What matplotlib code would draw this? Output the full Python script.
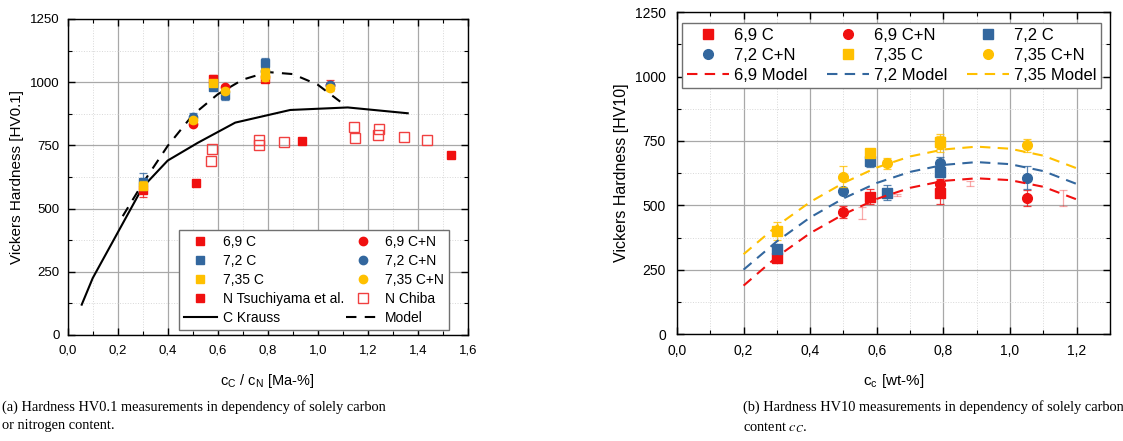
import matplotlib
matplotlib.use("Agg")
import matplotlib.pyplot as plt
from matplotlib.ticker import MultipleLocator, FuncFormatter

plt.rcParams['font.family'] = ['Liberation Sans', 'DejaVu Sans']
plt.rcParams['mathtext.fontset'] = 'stix'

RED = '#f01010'
BLUE = '#33679e'
YELLOW = '#ffc000'

# ---- HV0.1 (carbon or nitrogen content) ----
hv01_69c_x = [0.30, 0.58, 0.79]
hv01_69c_y = [572, 1012, 1012]
hv01_69c_err = [25, 15, 10]
hv01_69cn_x = [0.50, 0.63, 1.05]
hv01_69cn_y = [836, 982, 990]
hv01_69cn_err = [10, 8, 20]
hv01_72c_x = [0.30, 0.58, 0.63, 0.79]
hv01_72c_y = [607, 982, 950, 1075]
hv01_72c_err = [32, 12, 20, 20]
hv01_72cn_x = [0.50, 0.79, 1.05]
hv01_72cn_y = [862, 1045, 988]
hv01_72cn_err = [15, 10, 10]
hv01_735c_x = [0.30, 0.58, 0.79]
hv01_735c_y = [590, 995, 1035]
hv01_735c_err = [18, 10, 20]
hv01_735cn_x = [0.50, 0.63, 0.79, 1.05]
hv01_735cn_y = [850, 965, 1020, 978]
hv01_735cn_err = [10, 10, 15, 12]

tsuchiyama_x = [0.512, 0.937, 1.532]
tsuchiyama_y = [600, 769, 712]
chiba_x = [0.577, 0.575, 0.764, 0.764, 0.864, 1.147, 1.149, 1.245, 1.240, 1.344, 1.436]
chiba_y = [736, 688, 771, 750, 765, 824, 778, 815, 790, 782, 773]

krauss_x = [0.056, 0.10, 0.20, 0.30, 0.40, 0.52, 0.67, 0.89, 1.12, 1.36]
krauss_y = [120, 225, 405, 585, 690, 760, 840, 890, 900, 877]
model01_x = [0.22, 0.30, 0.40, 0.50, 0.60, 0.70, 0.80, 0.90, 1.00, 1.09]
model01_y = [470, 600, 748, 870, 952, 1010, 1040, 1032, 990, 923]

# ---- HV10 (carbon content) ----
hv10_69c_x = [0.30, 0.58, 0.79]
hv10_69c_y = [297, 534, 547]
hv10_69c_err = [18, 30, 40]
hv10_69cn_x = [0.50, 0.79, 1.05]
hv10_69cn_y = [474, 584, 528]
hv10_69cn_err = [25, 20, 30]
hv10_72c_x = [0.30, 0.58, 0.63, 0.79]
hv10_72c_y = [332, 672, 549, 630]
hv10_72c_err = [10, 25, 30, 20]
hv10_72cn_x = [0.50, 0.79, 1.05]
hv10_72cn_y = [554, 663, 607]
hv10_72cn_err = [10, 25, 45]
hv10_735c_x = [0.30, 0.58, 0.79]
hv10_735c_y = [400, 703, 748]
hv10_735c_err = [35, 8, 30]
hv10_735cn_x = [0.50, 0.63, 0.79, 1.05]
hv10_735cn_y = [611, 663, 738, 733]
hv10_735cn_err = [40, 20, 30, 25]
# faint bars without markers
hv10_faint_x = [0.555, 0.66, 0.88, 1.16]
hv10_faint_y = [470, 540, 585, 528]
hv10_faint_err = [22, 5, 8, 30]

model_x = [0.2, 0.3, 0.4, 0.5, 0.6, 0.7, 0.8, 0.9, 1.0, 1.1, 1.2]
model69_y = [188, 300, 392, 465, 525, 568, 595, 605, 598, 572, 523]
model72_y = [250, 360, 453, 527, 587, 630, 657, 668, 660, 633, 583]
model735_y = [310, 420, 513, 587, 647, 690, 717, 728, 720, 693, 644]

comma = FuncFormatter(lambda v, p: ('%.1f' % v).replace('.', ','))


def style_axes(ax, fs, ypad):
    ax.tick_params(which='both', direction='in', top=True, right=True, labelsize=fs)
    ax.tick_params(which='major', length=5, width=1)
    ax.tick_params(which='minor', length=3, width=0.8)
    ax.tick_params(axis='x', pad=7)
    ax.tick_params(axis='y', pad=ypad)
    ax.grid(which='major', color='#a8a8a8', lw=0.9)
    ax.grid(which='minor', color='#d8d8d8', lw=0.7, ls=':')
    ax.set_axisbelow(True)
    for s in ax.spines.values():
        s.set_linewidth(1.0)
    ax.xaxis.set_major_formatter(comma)


def series(ax, x, y, err, color, marker, label, ms):
    ax.errorbar(x, y, yerr=err, fmt='none', ecolor=color, elinewidth=0.9,
                capsize=3, capthick=0.9, alpha=0.8)
    ax.plot(x, y, marker, color=color, ms=ms, mec=color, label=label, ls='none')


fig = plt.figure(figsize=(11.23, 4.41), dpi=100)

# left panel
ax1 = fig.add_axes([0.0603, 0.2404, 0.3562, 0.7166])
ax1.plot(krauss_x, krauss_y, color='black', lw=1.5, label='C Krauss')
ax1.plot(model01_x, model01_y, color='black', lw=1.5, ls=(0, (5, 4)), label='Model')
ax1.plot(tsuchiyama_x, tsuchiyama_y, 's', color=RED, ms=6, ls='none', label='N Tsuchiyama et al.')
ax1.plot(chiba_x, chiba_y, 's', mfc='none', mec='#f04040', mew=1.0, ms=6.5, ls='none', label='N Chiba')
series(ax1, hv01_69c_x, hv01_69c_y, hv01_69c_err, RED, 's', '6,9 C', 6)
series(ax1, hv01_69cn_x, hv01_69cn_y, hv01_69cn_err, RED, 'o', '6,9 C+N', 6)
series(ax1, hv01_72c_x, hv01_72c_y, hv01_72c_err, BLUE, 's', '7,2 C', 6)
series(ax1, hv01_72cn_x, hv01_72cn_y, hv01_72cn_err, BLUE, 'o', '7,2 C+N', 6)
series(ax1, hv01_735c_x, hv01_735c_y, hv01_735c_err, YELLOW, 's', '7,35 C', 6)
series(ax1, hv01_735cn_x, hv01_735cn_y, hv01_735cn_err, YELLOW, 'o', '7,35 C+N', 6)
ax1.set_xlim(0, 1.6)
ax1.set_ylim(0, 1250)
ax1.xaxis.set_major_locator(MultipleLocator(0.2))
ax1.xaxis.set_minor_locator(MultipleLocator(0.1))
ax1.yaxis.set_major_locator(MultipleLocator(250))
ax1.yaxis.set_minor_locator(MultipleLocator(125))
style_axes(ax1, 9.5, 6)
ax1.set_xlabel(r'c$_\mathregular{C}$ / c$_\mathregular{N}$ [Ma-%]', fontsize=10.5, labelpad=11)
ax1.set_ylabel('Vickers Hardness [HV0.1]', fontsize=11)

h, l = ax1.get_legend_handles_labels()
hd = dict(zip(l, h))
order1 = ['6,9 C', '7,2 C', '7,35 C', 'N Tsuchiyama et al.', 'C Krauss',
          '6,9 C+N', '7,2 C+N', '7,35 C+N', 'N Chiba', 'Model']
ax1.legend([hd[k] for k in order1], order1, ncol=2, mode='expand',
           bbox_to_anchor=(0.278, 0.025, 0.675, 0.307), loc='upper left',
           fontsize=10, fancybox=False, edgecolor='#707070', framealpha=1,
           handlelength=2.4, handletextpad=0.4, borderaxespad=0, numpoints=1,
           labelspacing=0.36, borderpad=0.35)

# right panel
ax2 = fig.add_axes([0.6028, 0.2426, 0.3856, 0.7295])
ax2.errorbar(hv10_faint_x, hv10_faint_y, yerr=hv10_faint_err, fmt='none', ecolor=RED,
             elinewidth=0.9, capsize=3, capthick=0.9, alpha=0.35)
series(ax2, hv10_69c_x, hv10_69c_y, hv10_69c_err, RED, 's', '6,9 C', 6.5)
series(ax2, hv10_69cn_x, hv10_69cn_y, hv10_69cn_err, RED, 'o', '6,9 C+N', 7)
series(ax2, hv10_72c_x, hv10_72c_y, hv10_72c_err, BLUE, 's', '7,2 C', 6.5)
series(ax2, hv10_72cn_x, hv10_72cn_y, hv10_72cn_err, BLUE, 'o', '7,2 C+N', 7)
series(ax2, hv10_735c_x, hv10_735c_y, hv10_735c_err, YELLOW, 's', '7,35 C', 6.5)
series(ax2, hv10_735cn_x, hv10_735cn_y, hv10_735cn_err, YELLOW, 'o', '7,35 C+N', 7)
ax2.plot(model_x, model69_y, color=RED, lw=1.5, ls=(0, (5, 3.5)), label='6,9 Model')
ax2.plot(model_x, model72_y, color=BLUE, lw=1.5, ls=(0, (5, 3.5)), label='7,2 Model')
ax2.plot(model_x, model735_y, color=YELLOW, lw=1.5, ls=(0, (5, 3.5)), label='7,35 Model')
ax2.set_xlim(0, 1.3)
ax2.set_ylim(0, 1250)
ax2.xaxis.set_major_locator(MultipleLocator(0.2))
ax2.xaxis.set_minor_locator(MultipleLocator(0.1))
ax2.yaxis.set_major_locator(MultipleLocator(250))
ax2.yaxis.set_minor_locator(MultipleLocator(125))
style_axes(ax2, 10, 8)
ax2.set_xlabel(r'c$_\mathregular{c}$ [wt-%]', fontsize=11, labelpad=10)
ax2.set_ylabel('Vickers Hardness [HV10]', fontsize=11.5)

h, l = ax2.get_legend_handles_labels()
hd = dict(zip(l, h))
order2 = ['6,9 C', '7,2 C+N', '6,9 Model', '6,9 C+N', '7,35 C', '7,2 Model',
          '7,2 C', '7,35 C+N', '7,35 Model']
ax2.legend([hd[k] for k in order2], order2, ncol=3, mode='expand',
           bbox_to_anchor=(0.012, 0.761, 0.968, 0.207), loc='upper left',
           fontsize=12, fancybox=False, edgecolor='#707070', framealpha=1,
           handlelength=2.5, handletextpad=0.3, borderaxespad=0, numpoints=1,
           labelspacing=0.3, borderpad=0.3)

# captions
cap_font = dict(family=['Liberation Serif', 'DejaVu Serif'], fontsize=10.4, va='top',
                linespacing=1.55)
fig.text(0.002, 0.093,
         '(a) Hardness HV0.1 measurements in dependency of solely carbon\nor nitrogen content.',
         **cap_font)
fig.text(0.662, 0.093,
         '(b) Hardness HV10 measurements in dependency of solely carbon\ncontent $c_C$.',
         **cap_font)

fig.savefig('out.png', dpi=100)
